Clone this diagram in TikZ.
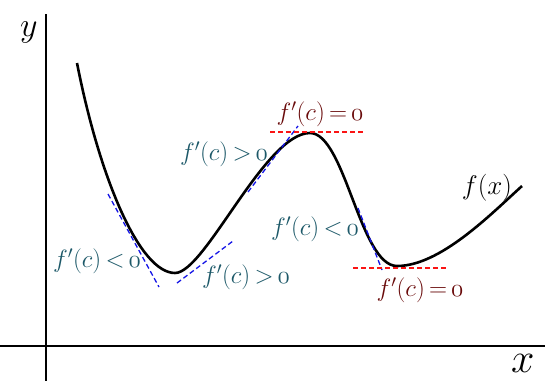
\RequirePackage{fix-cm}
\documentclass[tikz,border=0pt]{standalone}
\begin{document}
\begin{tikzpicture}[x=1pt,y=-1pt,
  axis/.style={line width=1.6pt,black},
  curve/.style={line width=2.6pt,black},
  tanblue/.style={line width=1.3pt,color=tblue,dash pattern=on 5pt off 3pt},
  tanred/.style={line width=1.3pt,color=tred,dash pattern=on 5pt off 3pt},
  lblpos/.style={text=teallbl,font=\fontsize{25}{29}\selectfont,inner sep=0pt},
  lblzero/.style={text=darkred,font=\fontsize{25}{29}\selectfont,inner sep=0pt},
  axlbl/.style={inner sep=0pt}]
\definecolor{tblue}{RGB}{20,20,230}
\definecolor{tred}{RGB}{250,20,20}
\definecolor{teallbl}{RGB}{28,88,104}
\definecolor{darkred}{RGB}{105,10,10}
\useasboundingbox (0,0) rectangle (547,381);
% axes
\coordinate (yt) at (46,14);
\coordinate (yb) at (46,381);
\coordinate (xl) at (0,346);
\coordinate (xr) at (545,346);
\draw[axis] (yt) -- (yb);
\draw[axis] (xl) -- (xr);
\node[axlbl,font=\fontsize{34}{38}\selectfont,anchor=base west] (ylab) at (20,36) {$y$};
\node[axlbl,font=\fontsize{42}{46}\selectfont,anchor=base west] (xlab) at (511,372) {$x$};
% curve
\draw[curve] (77,63) .. controls (100,180) and (140,273) .. (175,273)
  .. controls (205,273) and (265,133) .. (310,133)
  .. controls (345,133) and (360,266) .. (397,266)
  .. controls (440,266) and (490,215) .. (522,186);
% tangents
\coordinate (t1a) at (108,194); \coordinate (t1b) at (159,287);
\coordinate (t2a) at (177,283); \coordinate (t2b) at (233,241);
\coordinate (t3a) at (248,192); \coordinate (t3b) at (298,126);
\coordinate (t4a) at (270,132); \coordinate (t4b) at (363,132);
\coordinate (t5a) at (358,208); \coordinate (t5b) at (382,270);
\coordinate (t6a) at (353,268); \coordinate (t6b) at (446,268);
\draw[tanblue] (t1a) -- (t1b);
\draw[tanblue] (t2a) -- (t2b);
\draw[tanblue] (t3a) -- (t3b);
\draw[tanred] (t4a) -- (t4b);
\draw[tanblue] (t5a) -- (t5b);
\draw[tanred] (t6a) -- (t6b);
% labels
\node[lblzero] (l1) at (320,114) {$f'(c)\mkern-2mu=\mkern-2mu\oldstylenums{0}$};
\node[lblpos] (l2) at (224,154) {$f'(c)\mkern-2mu>\mkern-2mu\oldstylenums{0}$};
\node[lblpos] (l3) at (97,261) {$f'(c)\mkern-2mu<\mkern-2mu\oldstylenums{0}$};
\node[lblpos] (l4) at (246,277) {$f'(c)\mkern-2mu>\mkern-2mu\oldstylenums{0}$};
\node[lblpos] (l5) at (315,229) {$f'(c)\mkern-2mu<\mkern-2mu\oldstylenums{0}$};
\node[lblzero] (l6) at (420,290) {$f'(c)\mkern-2mu=\mkern-2mu\oldstylenums{0}$};
\node[font=\fontsize{27}{31}\selectfont,inner sep=0pt] (fx) at (487,188) {$f(x)$};
\end{tikzpicture}
\end{document}
